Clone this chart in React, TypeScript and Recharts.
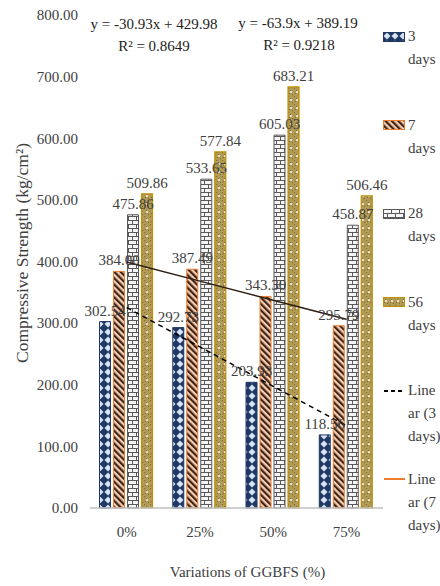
import React from "react";
import {
  ComposedChart,
  Bar,
  Line,
  XAxis,
  YAxis,
  Legend,
  LabelList,
  Label,
} from "recharts";

const categories = ["0%", "25%", "50%", "75%"];
const days3 = [302.54, 292.73, 203.93, 118.56];
const days7 = [384.0, 387.49, 343.3, 295.79];
const days28 = [475.86, 533.65, 605.03, 458.87];
const days56 = [509.86, 577.84, 683.21, 506.46];
// trend lines
const linear3 = [325.29, 261.39, 197.49, 133.59];
const linear7 = [399.05, 368.12, 337.19, 306.26];
const yTicks = [0, 100, 200, 300, 400, 500, 600, 700, 800];

const data = categories.map((c, i) => ({
  cat: c,
  d3: days3[i],
  d7: days7[i],
  d28: days28[i],
  d56: days56[i],
  t3: linear3[i],
  t7: linear7[i],
}));

const FONT = "Liberation Serif, Tinos, Times New Roman, DejaVu Serif, serif";
const TEXT = "#404040";

const legendItems = [
  { key: "d3", lines: ["3", "days"], fill: "url(#p3)", stroke: "#1f3864" },
  { key: "d7", lines: ["7", "days"], fill: "url(#p7)", stroke: "#ed7d31" },
  { key: "d28", lines: ["28", "days"], fill: "url(#p28)", stroke: "#595959" },
  { key: "d56", lines: ["56", "days"], fill: "url(#p56)", stroke: "#bf9000" },
  { key: "t3", lines: ["Line", "ar (3", "days)"], line: "#000", dash: "4 3" },
  { key: "t7", lines: ["Line", "ar (7", "days)"], line: "#ed7d31" },
];

function renderLegend() {
  return (
    <div style={{ fontFamily: FONT, fontSize: 15, color: TEXT }}>
      {legendItems.map((it) => (
        <div key={it.key} style={{ height: 88.6, lineHeight: "23px" }}>
          {it.lines.map((t, j) => (
            <div key={j} style={{ display: "flex", alignItems: "center", height: 23 }}>
              <div style={{ width: 25, flexShrink: 0 }}>
                {j === 0 && (
                  <svg width={23} height={10} style={{ display: "block" }}>
                    {it.line ? (
                      <line
                        x1={1}
                        x2={22}
                        y1={5}
                        y2={5}
                        stroke={it.line}
                        strokeWidth={2}
                        strokeDasharray={it.dash}
                      />
                    ) : (
                      <rect x={0.5} y={0.5} width={21} height={9} fill={it.fill} stroke={it.stroke} />
                    )}
                  </svg>
                )}
              </div>
              <span style={{ whiteSpace: "nowrap" }}>{t}</span>
            </div>
          ))}
        </div>
      ))}
    </div>
  );
}

const labelStyle = { fontSize: 15, fill: TEXT, fontFamily: FONT };
const fmt = (v: any) => Number(v).toFixed(2);

export default function App() {
  return (
    <div style={{ position: "absolute", left: 0, top: 0, background: "#fff", fontFamily: FONT }}>
      <ComposedChart
        width={440}
        height={586}
        data={data}
        margin={{ top: 15, right: 0, bottom: 0, left: 0 }}
        barCategoryGap="13%"
        barGap={3}
        style={{ fontFamily: FONT }}
      >
        <defs>
          <pattern id="p3" width={8} height={8} patternUnits="userSpaceOnUse">
            <rect width={8} height={8} fill="#1f3864" />
            <polygon points="4,0.5 7.5,4 4,7.5 0.5,4" fill="#dae3f3" />
          </pattern>
          <pattern
            id="p7"
            width={4.5}
            height={4.5}
            patternUnits="userSpaceOnUse"
            patternTransform="rotate(-45)"
          >
            <rect width={4.5} height={4.5} fill="#f8cbad" />
            <rect width={2.2} height={4.5} fill="#3b2418" />
          </pattern>
          <pattern id="p28" width={8} height={8} patternUnits="userSpaceOnUse">
            <rect width={8} height={8} fill="#f5f5f5" />
            <line x1={0} x2={8} y1={0.5} y2={0.5} stroke="#595959" />
            <line x1={0} x2={8} y1={4.5} y2={4.5} stroke="#595959" />
            <line x1={0.5} x2={0.5} y1={0} y2={4} stroke="#595959" />
            <line x1={4.5} x2={4.5} y1={4} y2={8} stroke="#595959" />
          </pattern>
          <pattern id="p56" width={6} height={8} patternUnits="userSpaceOnUse">
            <rect width={6} height={8} fill="#b09a55" />
            <rect x={0} y={0} width={1} height={1} fill="#7d6b34" />
            <rect x={2} y={2} width={1} height={1} fill="#7d6b34" />
            <rect x={4} y={6} width={1} height={1} fill="#7d6b34" />
            <rect x={1} y={5} width={1} height={1} fill="#7d6b34" />
            <circle cx={3} cy={4} r={0.9} fill="#ffffff" />
          </pattern>
        </defs>

        <XAxis
          dataKey="cat"
          height={78}
          axisLine={{ stroke: "#bfbfbf", strokeWidth: 1.5 }}
          tickLine={false}
          tickSize={0}
          tickMargin={18}
          tick={labelStyle}
        >
          <Label
            content={({ viewBox }: any) => (
              <text
                x={viewBox.x + viewBox.width / 2 + 11}
                y={viewBox.y + 69}
                textAnchor="middle"
                style={labelStyle}
              >
                Variations of GGBFS (%)
              </text>
            )}
          />
        </XAxis>
        <YAxis
          width={90}
          domain={[0, 800]}
          ticks={yTicks}
          interval={0}
          axisLine={false}
          tickLine={false}
          tickSize={0}
          tickMargin={12}
          tickFormatter={(v: number) => v.toFixed(2)}
          tick={labelStyle}
        >
          <Label
            content={() => (
              <text
                x={22}
                y={253}
                transform="rotate(-90 22 253)"
                textAnchor="middle"
                dominantBaseline="central"
                style={{ fontSize: 17.5, fill: TEXT, fontFamily: FONT }}
              >
                Compressive Strength (kg/cm²)
              </text>
            )}
          />
        </YAxis>

        <Legend
          layout="vertical"
          align="right"
          verticalAlign="top"
          content={renderLegend}
          wrapperStyle={{ width: 57, top: 25, left: 383 }}
        />

        <Bar dataKey="d3" name="3 days" fill="url(#p3)" stroke="#1f3864" strokeWidth={1} isAnimationActive={false}>
          <LabelList dataKey="d3" position="top" offset={6} formatter={fmt} style={labelStyle} />
        </Bar>
        <Bar dataKey="d7" name="7 days" fill="url(#p7)" stroke="#ed7d31" strokeWidth={1} isAnimationActive={false}>
          <LabelList dataKey="d7" position="top" offset={6} formatter={fmt} style={labelStyle} />
        </Bar>
        <Bar dataKey="d28" name="28 days" fill="url(#p28)" stroke="#595959" strokeWidth={1} isAnimationActive={false}>
          <LabelList dataKey="d28" position="top" offset={6} formatter={fmt} style={labelStyle} />
        </Bar>
        <Bar dataKey="d56" name="56 days" fill="url(#p56)" stroke="#bf9000" strokeWidth={1.2} isAnimationActive={false}>
          <LabelList dataKey="d56" position="top" offset={6} formatter={fmt} style={labelStyle} />
        </Bar>

        <Line
          type="linear"
          dataKey="t3"
          name="Linear (3 days)"
          stroke="#000"
          strokeWidth={1.5}
          strokeDasharray="5 4"
          dot={false}
          activeDot={false}
          isAnimationActive={false}
        />
        <Line
          type="linear"
          dataKey="t7"
          name="Linear (7 days)"
          stroke="#2e1e14"
          strokeWidth={1.5}
          dot={false}
          activeDot={false}
          isAnimationActive={false}
        />

        <g textAnchor="middle" style={{ fontFamily: FONT, fontSize: 15, fill: "#222" }}>
          <text x={154} y={29}>y = -30.93x + 429.98</text>
          <text x={154} y={51}>R² = 0.8649</text>
          <text x={298} y={28}>y = -63.9x + 389.19</text>
          <text x={299} y={50}>R² = 0.9218</text>
        </g>
      </ComposedChart>
    </div>
  );
}
